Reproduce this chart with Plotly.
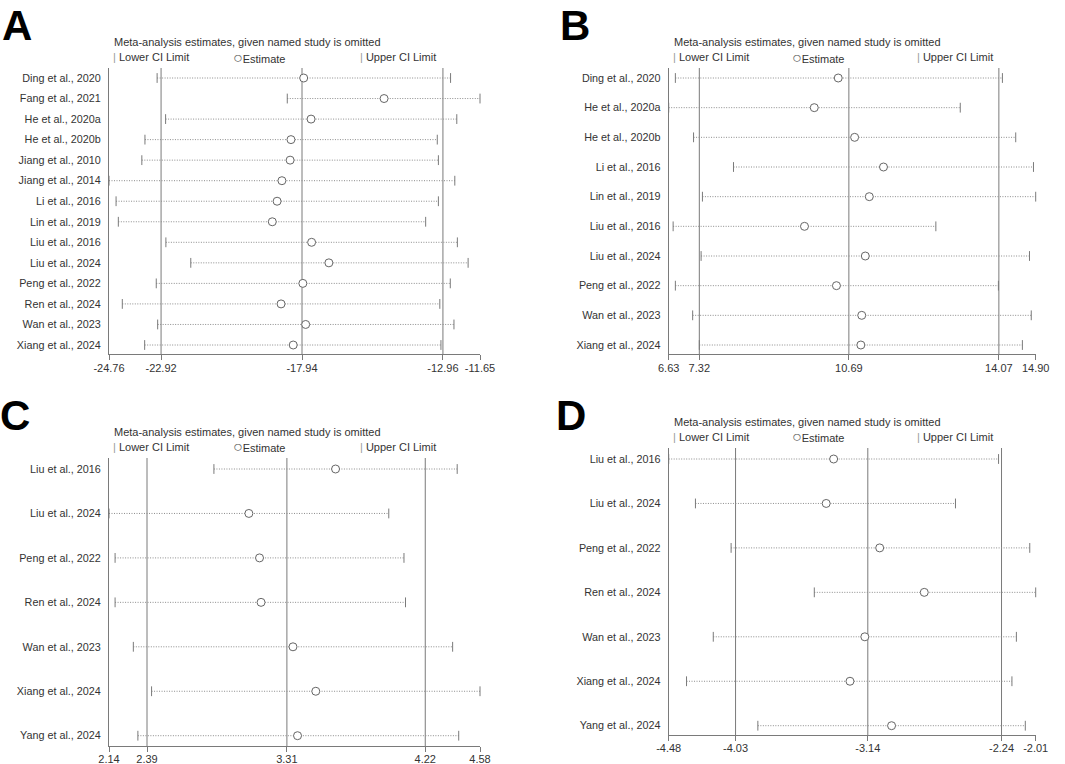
import plotly.graph_objects as go

W, H = 1065, 764

# ---------------- data ----------------
studies_A = ["Ding et al., 2020", "Fang et al., 2021", "He et al., 2020a", "He et al., 2020b",
             "Jiang et al., 2010", "Jiang et al., 2014", "Li et al., 2016", "Lin et al., 2019",
             "Liu et al., 2016", "Liu et al., 2024", "Peng et al., 2022", "Ren et al., 2024",
             "Wan et al., 2023", "Xiang et al., 2024"]
lower_A = [-23.06, -18.46, -22.76, -23.49, -23.60, -24.76, -24.51, -24.43, -22.75, -21.87, -23.09, -24.29, -23.04, -23.50]
est_A = [-17.88, -15.04, -17.62, -18.33, -18.36, -18.65, -18.82, -18.99, -17.60, -16.99, -17.91, -18.68, -17.81, -18.25]
upper_A = [-12.69, -11.65, -12.47, -13.16, -13.12, -12.54, -13.12, -13.57, -12.45, -12.07, -12.70, -13.07, -12.57, -13.03]
overall_A = [-22.92, -17.94, -12.96]
limits_A = [-24.76, -11.65]

studies_B = ["Ding et al., 2020", "He et al., 2020a", "He et al., 2020b", "Li et al., 2016",
             "Lin et al., 2019", "Liu et al., 2016", "Liu et al., 2024", "Peng et al., 2022",
             "Wan et al., 2023", "Xiang et al., 2024"]
lower_B = [6.78, 6.63, 7.19, 8.09, 7.39, 6.73, 7.36, 6.78, 7.17, 7.32]
est_B = [10.45, 9.91, 10.82, 11.47, 11.15, 9.69, 11.06, 10.41, 10.98, 10.96]
upper_B = [14.15, 13.20, 14.45, 14.85, 14.90, 12.65, 14.76, 14.06, 14.80, 14.60]
overall_B = [7.32, 10.69, 14.07]
limits_B = [6.63, 14.90]

studies_C = ["Liu et al., 2016", "Liu et al., 2024", "Peng et al., 2022", "Ren et al., 2024",
             "Wan et al., 2023", "Xiang et al., 2024", "Yang et al., 2024"]
lower_C = [2.83, 2.14, 2.18, 2.18, 2.30, 2.42, 2.33]
est_C = [3.63, 3.06, 3.13, 3.14, 3.35, 3.50, 3.38]
upper_C = [4.43, 3.98, 4.08, 4.09, 4.40, 4.58, 4.44]
overall_C = [2.39, 3.31, 4.22]
limits_C = [2.14, 4.58]

studies_D = ["Liu et al., 2016", "Liu et al., 2024", "Peng et al., 2022", "Ren et al., 2024",
             "Wan et al., 2023", "Xiang et al., 2024", "Yang et al., 2024"]
lower_D = [-4.48, -4.30, -4.06, -3.50, -4.18, -4.36, -3.88]
est_D = [-3.37, -3.42, -3.06, -2.76, -3.16, -3.26, -2.98]
upper_D = [-2.26, -2.55, -2.05, -2.01, -2.14, -2.17, -2.08]
overall_D = [-4.03, -3.14, -2.24]
limits_D = [-4.48, -2.01]

panel_letters = ["A", "B", "C", "D"]
title_text = "Meta-analysis estimates, given named study is omitted"
legend_labels = ["Lower CI Limit", "Estimate", "Upper CI Limit"]

# ---------------- layout geometry (pixels) ----------------
FONT = "Liberation Sans, Arial, sans-serif"
# letter: (x px, y px, yanchor)
panels = [
    dict(studies=studies_A, lo=lower_A, est=est_A, up=upper_A, ov=overall_A, lim=limits_A,
         x0=109, x1=480, top=68, bot=354.3, row0=78, rowN=345,
         title=(112, 42), leg=[(111, 57), (231, 57), (358, 57)], letter=(0, 0, "top")),
    dict(studies=studies_B, lo=lower_B, est=est_B, up=upper_B, ov=overall_B, lim=limits_B,
         x0=668.7, x1=1035.7, top=68, bot=354.3, row0=78, rowN=345,
         title=(671.7, 42), leg=[(670.7, 57), (790, 57), (915, 57)], letter=(558, 0, "top")),
    dict(studies=studies_C, lo=lower_C, est=est_C, up=upper_C, ov=overall_C, lim=limits_C,
         x0=109, x1=480, top=458, bot=746, row0=469, rowN=735.7,
         title=(112, 432), leg=[(111, 446.7), (231, 446.7), (358, 446.7)], letter=(-2, 415, "middle")),
    dict(studies=studies_D, lo=lower_D, est=est_D, up=upper_D, ov=overall_D, lim=limits_D,
         x0=668.7, x1=1035.7, top=448, bot=735, row0=459, rowN=725.7,
         title=(671.7, 422.3), leg=[(670.7, 436.7), (790, 436.7), (915, 436.7)], letter=(554, 415, "middle")),
]

fig = go.Figure()
layout = dict(width=W, height=H, autosize=False, margin=dict(l=0, r=0, t=0, b=0, pad=0),
              plot_bgcolor="white", paper_bgcolor="white", showlegend=False,
              font=dict(family=FONT, size=11, color="#333"))
annotations = []
shapes = []

LINE_GRAY = "#7a7a7a"
DOT_GRAY = "#8c8c8c"
CIRC_GRAY = "#666666"
TXT = "#333333"

for k, p in enumerate(panels, start=1):
    xa = "x" if k == 1 else f"x{k}"
    ya = "y" if k == 1 else f"y{k}"
    n = len(p["studies"])
    idx = list(range(n))
    step = (p["rowN"] - p["row0"]) / (n - 1)
    y_top = -(p["row0"] - p["top"]) / step
    y_bot = (n - 1) + (p["bot"] - p["rowN"]) / step

    # dotted CI lines
    lx, ly = [], []
    for i in idx:
        lx += [p["lo"][i], p["up"][i], None]
        ly += [i, i, None]
    fig.add_trace(go.Scatter(x=lx, y=ly, mode="lines", xaxis=xa, yaxis=ya,
                             line=dict(color=DOT_GRAY, width=1, dash="1px,1.5px"),
                             hoverinfo="skip", cliponaxis=False))
    # caps
    fig.add_trace(go.Scatter(x=p["lo"] + p["up"], y=idx + idx, mode="markers", xaxis=xa, yaxis=ya,
                             marker=dict(symbol="line-ns", size=7,
                                         line=dict(color=LINE_GRAY, width=1)),
                             hoverinfo="skip", cliponaxis=False))
    # estimates
    fig.add_trace(go.Scatter(x=p["est"], y=idx, mode="markers", xaxis=xa, yaxis=ya,
                             marker=dict(symbol="circle", size=8, color="white",
                                         line=dict(color=CIRC_GRAY, width=1)),
                             hoverinfo="skip", cliponaxis=False))

    # overall vertical lines
    for v in p["ov"]:
        shapes.append(dict(type="line", xref=xa, yref=f"{ya} domain", x0=v, x1=v, y0=0, y1=1,
                           line=dict(color=LINE_GRAY, width=1), layer="below"))

    tickvals = [p["lim"][0]] + p["ov"] + [p["lim"][1]]
    layout["xaxis" if k == 1 else f"xaxis{k}"] = dict(
        domain=[p["x0"] / W, p["x1"] / W], anchor=ya, range=p["lim"], automargin=False,
        showgrid=False, zeroline=False, showline=True, linecolor=LINE_GRAY, linewidth=1,
        ticks="outside", ticklen=5, tickcolor=LINE_GRAY, tickwidth=1, ticklabelstandoff=-2,
        tickvals=tickvals, ticktext=[f"{v:.2f}" for v in tickvals],
        tickfont=dict(family=FONT, size=11, color=TXT), fixedrange=True)
    layout["yaxis" if k == 1 else f"yaxis{k}"] = dict(
        domain=[1 - p["bot"] / H, 1 - p["top"] / H], anchor=xa, range=[y_bot, y_top],
        automargin=False,
        showgrid=False, zeroline=False, showline=True, linecolor=LINE_GRAY, linewidth=1,
        ticks="", tickvals=idx, ticktext=p["studies"], ticklabelstandoff=5,
        tickfont=dict(family=FONT, size=10.8, color=TXT), fixedrange=True)

    # title and legend
    tx, ty = p["title"]
    annotations.append(dict(xref="paper", yref="paper", x=tx / W, y=1 - ty / H,
                            xanchor="left", yanchor="middle", showarrow=False,
                            text=title_text, font=dict(family=FONT, size=11, color=TXT)))
    marks = ["<span style='color:#999'>|</span> ",
             "<span style='color:#666;font-size:16px'>○</span>",
             "<span style='color:#999'>|</span> "]
    for (lxp, lyp), mk, lab in zip(p["leg"], marks, legend_labels):
        annotations.append(dict(xref="paper", yref="paper", x=lxp / W, y=1 - lyp / H,
                                xanchor="left", yanchor="middle", showarrow=False,
                                text=mk + lab, font=dict(family=FONT, size=11, color=TXT)))
    # panel letter
    ax_, ay_, anc = p["letter"]
    annotations.append(dict(xref="paper", yref="paper", x=ax_ / W, y=1 - ay_ / H,
                            xanchor="left", yanchor=anc, showarrow=False,
                            text=f"<b>{panel_letters[k-1]}</b>",
                            font=dict(family=FONT, size=42, color="black")))

layout["annotations"] = annotations
layout["shapes"] = shapes
fig.update_layout(**layout)
fig.write_html("out.html", config={"displayModeBar": False},
               post_script="document.body.style.margin='0';document.body.style.overflow='hidden';")
